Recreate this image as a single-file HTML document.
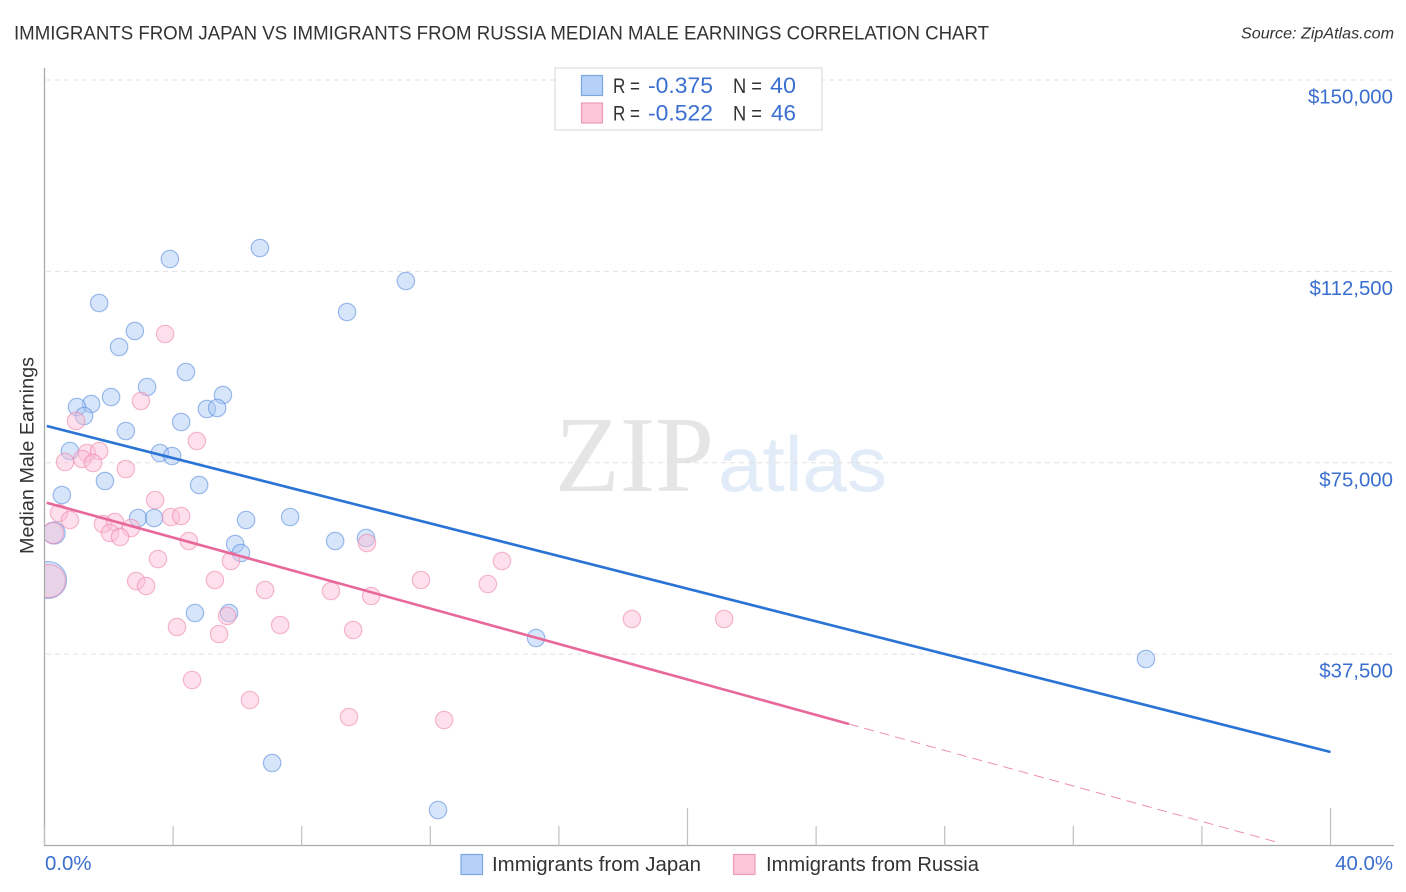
<!DOCTYPE html>
<html lang="en">
<head>
<meta charset="utf-8">
<title>Immigrants from Japan vs Immigrants from Russia Median Male Earnings Correlation Chart</title>
<style>
html,body{margin:0;padding:0;background:#fff;width:1406px;height:892px;overflow:hidden}
svg{display:block;font-family:"Liberation Sans",sans-serif}
</style>
</head>
<body>
<svg id="chart" width="1406" height="892" viewBox="0 0 1406 892" xmlns="http://www.w3.org/2000/svg">
  <defs>
    <clipPath id="plot-clip"><rect x="45" y="60" width="1349" height="785.5"/></clipPath>
  </defs>
  <rect x="0" y="0" width="1406" height="892" fill="#ffffff"/>

  <text x="14" y="39.5" font-size="19.5" fill="#333333" textLength="975" lengthAdjust="spacingAndGlyphs">IMMIGRANTS FROM JAPAN VS IMMIGRANTS FROM RUSSIA MEDIAN MALE EARNINGS CORRELATION CHART</text>
  <text x="1394" y="38.5" font-size="16.1" font-style="italic" fill="#333333" text-anchor="end">Source: ZipAtlas.com</text>

  <g>
    <text x="555" y="491" font-family="'Liberation Serif',serif" font-size="108" fill="#e5e5e5" textLength="159" lengthAdjust="spacingAndGlyphs">ZIP</text>
    <text x="718" y="491" font-size="78" fill="#e2ebf8" textLength="169" lengthAdjust="spacingAndGlyphs">atlas</text>
  </g>

  <g id="grid"></g>
  <g id="axes"></g>
  <g id="points" clip-path="url(#plot-clip)"></g>
  <g id="trends"></g>

  <text transform="translate(33.5,455.5) rotate(-90)" font-size="19" fill="#333333" text-anchor="middle" textLength="197" lengthAdjust="spacingAndGlyphs">Median Male Earnings</text>

  <g>
    <rect x="555" y="68" width="267" height="62" fill="#ffffff" stroke="#dddddd" stroke-width="1.2"/>
    <rect x="581.5" y="75.5" width="21" height="20" fill="#b5d1f7" stroke="#7aa7e2" stroke-width="1.2"/>
    <rect x="581.5" y="103" width="21" height="20" fill="#fcc6d8" stroke="#ee9cb8" stroke-width="1.2"/>
    <text x="613" y="93" font-size="21" fill="#333333" textLength="27" lengthAdjust="spacingAndGlyphs">R =</text>
    <text x="648" y="93" font-size="22" fill="#3a6fcf" textLength="65" lengthAdjust="spacingAndGlyphs">-0.375</text>
    <text x="733" y="93" font-size="21" fill="#333333" textLength="29" lengthAdjust="spacingAndGlyphs">N =</text>
    <text x="770" y="93" font-size="22" fill="#3a6fcf" textLength="26" lengthAdjust="spacingAndGlyphs">40</text>
    <text x="613" y="120.5" font-size="21" fill="#333333" textLength="27" lengthAdjust="spacingAndGlyphs">R =</text>
    <text x="648" y="120.5" font-size="22" fill="#3a6fcf" textLength="65" lengthAdjust="spacingAndGlyphs">-0.522</text>
    <text x="733" y="120.5" font-size="21" fill="#333333" textLength="29" lengthAdjust="spacingAndGlyphs">N =</text>
    <text x="771" y="120.5" font-size="22" fill="#3a6fcf" textLength="25" lengthAdjust="spacingAndGlyphs">46</text>
  </g>

  <g>
    <rect x="461" y="854.5" width="21.5" height="20" fill="#b5d1f7" stroke="#7aa7e2" stroke-width="1.2"/>
    <text x="492" y="871" font-size="20" fill="#333333" textLength="209" lengthAdjust="spacingAndGlyphs">Immigrants from Japan</text>
    <rect x="733.5" y="854.5" width="21.5" height="20" fill="#fcc6d8" stroke="#ee9cb8" stroke-width="1.2"/>
    <text x="766" y="871" font-size="20" fill="#333333" textLength="213" lengthAdjust="spacingAndGlyphs">Immigrants from Russia</text>
  </g>
</svg>
<script>
// Chart data
var yTickValues = [37500, 75000, 112500, 150000];
var yTickLabels = ["$37,500", "$75,000", "$112,500", "$150,000"];
var xTickValues = [0, 4, 8, 12, 16, 20, 24, 28, 32, 36, 40];
var xMajorTicks = [20, 40];
var xEdgeLabels = ["0.0%", "40.0%"];
var xEdgeValues = [0, 40];

var japanX = [3.90,6.70,11.24,1.70,2.81,9.41,2.32,4.40,3.19,5.55,2.07,1.45,1.01,1.23,5.05,5.37,4.25,2.53,0.79,3.59,3.97,1.88,4.81,0.54,0.30,2.91,3.41,6.27,7.64,9.04,10.00,5.93,6.11,0.11,4.68,5.74,15.29,34.26,7.08,12.24];
var japanY = [114925,117080,110614,106303,100816,104539,97681,92782,89843,88275,87884,86512,85924,84161,85532,85728,82985,81221,77302,76910,76323,71424,70640,68680,61234,64174,64174,63782,64370,59667,60255,59079,57315,52025,45558,45558,40660,36545,16166,6956];
var japanWeight = [1,1,1,1,1,1,1,1,1,1,1,1,1,1,1,1,1,1,1,1,1,1,1,1,1.6,1,1,1,1,1,1,1,1,4.5,1,1,1,1,1,1];

var russiaX = [3.75,3.00,0.98,4.74,0.64,1.32,1.70,1.17,1.51,2.53,3.44,0.45,0.79,1.82,2.19,2.69,2.04,2.35,3.93,4.25,4.49,3.53,10.03,5.80,14.23,2.85,3.16,5.30,11.71,13.79,6.86,8.91,10.16,4.12,5.68,5.43,7.33,9.60,18.27,21.14,4.59,6.39,9.47,12.43,0.26,0.14];
var russiaY = [100228,87100,83181,79262,75147,76910,77302,75735,74951,73775,67701,65153,63782,62998,63390,62214,61234,60451,64370,64566,59667,56140,59275,55748,55748,51829,50849,52025,52025,51241,50065,49869,48890,42815,44971,41443,43207,42227,44383,44383,32430,28511,25180,24592,61234,51829];
var russiaWeight = [1,1,1,1,1,1,1,1,1,1,1,1,1,1,1,1,1,1,1,1,1,1,1,1,1,1,1,1,1,1,1,1,1,1,1,1,1,1,1,1,1,1,1,1,1.5,3.6];

var japanTrendX = [0.07, 40];
var japanTrendY = [82201, 18321];
var russiaTrendX = [0.07, 25.02];
var russiaTrendY = [67172, 23808];
var russiaDashX = [25.02, 38.43];
var russiaDashY = [23808, 490];

// Axis functions
function xScale(v) { return 44.5 + v * 32.15; }
function yScale(v) { return 845.5 - v * 0.0051033; }
function radiusScale(w) { return 8.7 * Math.sqrt(w); }

var NS = "http://www.w3.org/2000/svg";
function make(tag, parent, attrs, text) {
  var el = document.createElementNS(NS, tag);
  for (var k in attrs) { el.setAttribute(k, attrs[k]); }
  if (text !== undefined) { el.textContent = text; }
  parent.appendChild(el);
  return el;
}

var grid = document.getElementById("grid");
var axes = document.getElementById("axes");
var pointsLayer = document.getElementById("points");
var trends = document.getElementById("trends");

yTickValues.forEach(function (v, i) {
  var g = make("line", grid, {x1: 46, x2: 1394, y1: yScale(v), y2: yScale(v), stroke: "#e2e2e2", "stroke-width": 1, "stroke-dasharray": "5 4"});
  
  
  var t = make("text", axes, {x: 1393, y: yScale(v) + 23.5, "font-size": 20.4, fill: "#3a6fcf", "text-anchor": "end"}, yTickLabels[i]);
  
  
});

var axisY = make("line", axes, {x1: 44.5, x2: 44.5, y1: 68, y2: 846, stroke: "#aaaaaa", "stroke-width": 1.3});


var axisX = make("line", axes, {x1: 44, x2: 1394, y1: 845.5, y2: 845.5, stroke: "#aaaaaa", "stroke-width": 1.3});



xTickValues.forEach(function (v) {
  var isMajor = xMajorTicks.indexOf(v) >= 0;
  var tick = make("line", axes, {x1: xScale(v), x2: xScale(v), y1: isMajor ? 808 : 826, y2: 845.5, stroke: "#c0c0c0", "stroke-width": 1.2});
  
  
});

xEdgeValues.forEach(function (v, i) {
  var label = make("text", axes, {x: i === 0 ? xScale(v) + 0.5 : 1393, y: 870, "font-size": 20.4, fill: "#3a6fcf", "text-anchor": i === 0 ? "start" : "end"}, xEdgeLabels[i]);
  
  
});

japanX.forEach(function (v, i) {
  var c = make("circle", pointsLayer, {cx: xScale(v), cy: yScale(japanY[i]), r: radiusScale(japanWeight[i]), fill: "rgba(168,200,244,0.47)", stroke: "rgba(80,135,220,0.55)", "stroke-width": 1.2});
  
  
});
russiaX.forEach(function (v, i) {
  var c = make("circle", pointsLayer, {cx: xScale(v), cy: yScale(russiaY[i]), r: radiusScale(russiaWeight[i]), fill: "rgba(250,190,212,0.47)", stroke: "rgba(236,130,170,0.55)", "stroke-width": 1.2});
  
  
});

var lineJapan = make("line", trends, {x1: xScale(japanTrendX[0]), y1: yScale(japanTrendY[0]), x2: xScale(japanTrendX[1]), y2: yScale(japanTrendY[1]), stroke: "#2a74d6", "stroke-width": 2.6});


var lineRussia = make("line", trends, {x1: xScale(russiaTrendX[0]), y1: yScale(russiaTrendY[0]), x2: xScale(russiaTrendX[1]), y2: yScale(russiaTrendY[1]), stroke: "#e9689a", "stroke-width": 2.6});


var lineDash = make("line", trends, {x1: xScale(russiaDashX[0]), y1: yScale(russiaDashY[0]), x2: xScale(russiaDashX[1]), y2: yScale(russiaDashY[1]), stroke: "#ee8fb2", "stroke-width": 1, "stroke-dasharray": "10 6"});


</script>
</body>
</html>
